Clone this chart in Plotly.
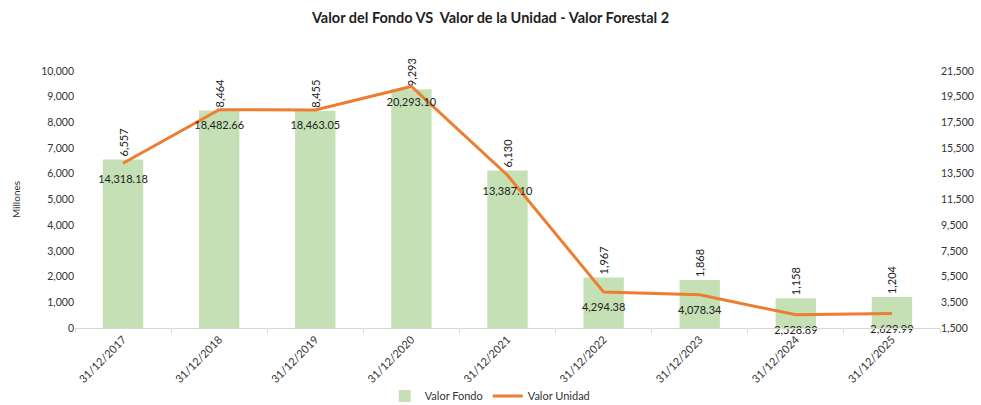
import plotly.graph_objects as go

fechas = ["31/12/2017", "31/12/2018", "31/12/2019", "31/12/2020", "31/12/2021",
          "31/12/2022", "31/12/2023", "31/12/2024", "31/12/2025"]
valor_fondo = [6557, 8464, 8455, 9293, 6130, 1967, 1868, 1158, 1204]
valor_unidad = [14318.18, 18482.66, 18463.05, 20293.10, 13387.10, 4294.38, 4078.34, 2528.89, 2629.99]

left_ticks = list(range(0, 10001, 1000))
right_ticks = list(range(1500, 21501, 2000))

font_family = "Lato, 'Liberation Sans', sans-serif"

fig = go.Figure()
fig.add_trace(go.Bar(
    x=fechas, y=valor_fondo, name="Valor Fondo",
    marker=dict(color="#C5E0B4", line=dict(width=0)),
    width=0.42,
    text=[f"{v:,}" for v in valor_fondo],
    textposition="outside", textangle=-90,
    textfont=dict(size=11, color="#222222"),
    cliponaxis=False,
))
fig.add_trace(go.Scatter(
    x=fechas, y=valor_unidad, name="Valor Unidad", yaxis="y2",
    mode="lines",
    line=dict(color="#ED7D31", width=3),
    cliponaxis=False,
))
# data labels for the line (invisible markers give the offset below each point)
fig.add_trace(go.Scatter(
    x=fechas, y=valor_unidad, yaxis="y2", showlegend=False, hoverinfo="skip",
    mode="markers+text",
    marker=dict(size=16, opacity=0, color="#ED7D31"),
    text=[f"{v:,.2f}" for v in valor_unidad],
    textposition="bottom center",
    textfont=dict(size=11, color="#222222"),
    cliponaxis=False,
))

fig.update_layout(
    width=981, height=405,
    margin=dict(l=75, r=41, t=71, b=77, autoexpand=False),
    paper_bgcolor="white", plot_bgcolor="white",
    font=dict(family=font_family, size=11, color="#333333"),
    title=dict(text="<b>Valor del Fondo VS  Valor de la Unidad - Valor Forestal 2</b>",
               x=0.5, xanchor="center", y=0.955, yanchor="middle",
               font=dict(size=14.5, color="#222222")),
    xaxis=dict(type="category", range=[-0.5, len(fechas) - 0.5], tickangle=-45,
               showgrid=False, automargin=False,
               showline=True, linecolor="#D9D9D9", linewidth=1,
               ticks="outside", tickson="boundaries", ticklen=4, tickcolor="#D9D9D9",
               tickfont=dict(size=11, color="#333333")),
    yaxis=dict(range=[0, 10000], tickvals=left_ticks, tickformat=",", automargin=False,
               showgrid=False, zeroline=False, showline=False,
               title=dict(text="Millones", font=dict(size=10), standoff=18),
               tickfont=dict(size=10.5, color="#333333")),
    yaxis2=dict(range=[1500, 21500], tickvals=right_ticks, tickformat=",", automargin=False,
                overlaying="y", side="right", showgrid=False, zeroline=False,
                showline=False, tickfont=dict(size=10.5, color="#333333")),
    legend=dict(orientation="h", x=0.48, xanchor="center", y=-0.265, yanchor="middle",
                font=dict(size=11, color="#333333"), traceorder="normal"),
    showlegend=True,
)

fig.write_html("out.html")
